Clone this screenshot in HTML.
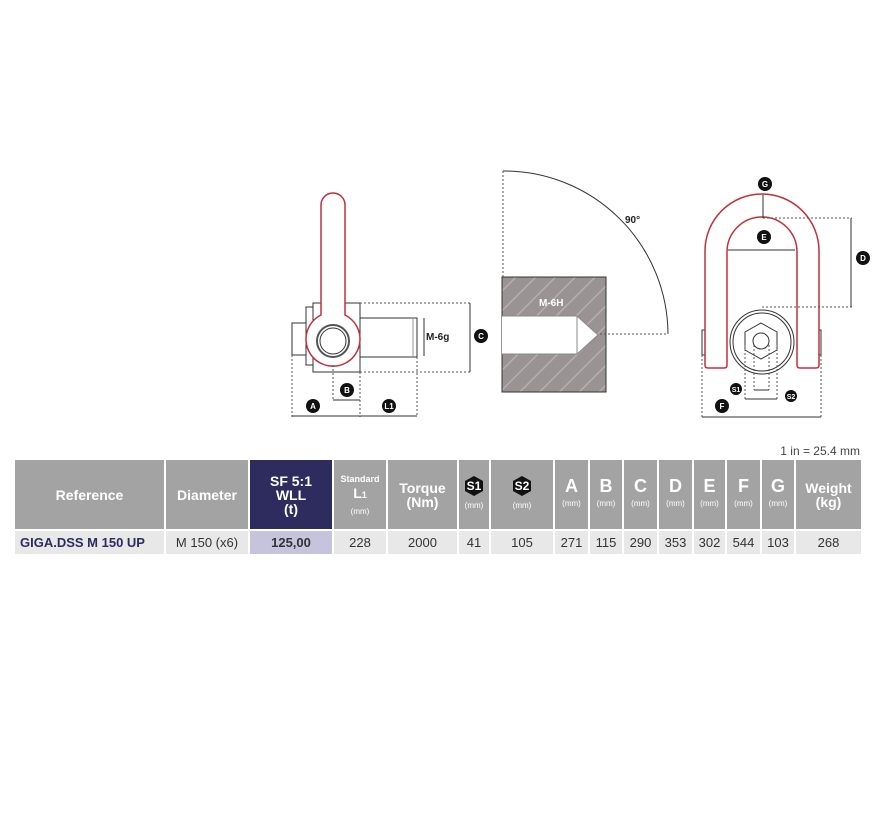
<!DOCTYPE html>
<html><head><meta charset="utf-8"><style>
body{margin:0;background:#fff;width:890px;height:820px;overflow:hidden;font-family:"Liberation Sans",sans-serif}
svg{position:absolute;left:0;top:0}
.t{position:absolute;left:15px;top:460px;border-collapse:collapse}
.t td{border-right:2px solid #fff;padding:0;text-align:center;color:#fff;font-weight:bold;font-size:14px;line-height:14px}
.t tr.h td{background:#a3a3a3;height:69px}
.t tr.h td.sf{background:#2e2c5e}
.t tr.d td{background:#e8e8e8;height:23px;color:#333;font-weight:normal;font-size:13px;border-top:2px solid #fff}
.t tr.d td.sf{background:#c6c4dc;font-weight:bold}
.mm{font-size:8px;font-weight:normal;display:block;margin-top:3px}
.big{font-size:18px}
.hx{display:inline-block;width:18px;height:20px;background:#111;clip-path:polygon(50% 0,100% 25%,100% 75%,50% 100%,0 75%,0 25%);color:#fff;font-size:12px;line-height:20px}
</style></head><body>
<svg width="890" height="820" viewBox="0 0 890 820">
<defs>
<pattern id="hatch" width="14" height="14" patternUnits="userSpaceOnUse" patternTransform="rotate(45)">
<rect width="14" height="14" fill="#9a9393"/><line x1="0" y1="0" x2="0" y2="14" stroke="#b5afaf" stroke-width="3"/>
</pattern>
</defs>
<g fill="none" stroke="#333" stroke-width="1">
<!-- left drawing -->
<rect x="292" y="323" width="14" height="32" fill="#fff"/>
<rect x="306" y="307" width="7" height="58" fill="#fff"/>
<rect x="313" y="303" width="47" height="69" fill="#fff"/>
<rect x="360" y="318" width="57" height="39" fill="#fff"/>
<line x1="413" y1="318" x2="413" y2="357" stroke="#999"/>
<path d="M321 205 A12 12 0 0 1 345 205 L345 315 A27 27 0 1 1 321 315 Z" fill="#fff" stroke="#c0303a" stroke-width="1.5"/>
<circle cx="333" cy="341" r="16" stroke="#555" stroke-width="2"/>
<circle cx="333" cy="341" r="13"/>
<g stroke-dasharray="2,2" stroke="#555">
<line x1="360" y1="303" x2="470" y2="303"/><line x1="360" y1="372" x2="470" y2="372"/>
<line x1="292" y1="355" x2="292" y2="417"/><line x1="360" y1="372" x2="360" y2="417"/>
<line x1="417" y1="357" x2="417" y2="417"/><line x1="333" y1="365" x2="333" y2="400"/>
</g>
<line x1="470" y1="303" x2="470" y2="372"/><line x1="424" y1="318" x2="424" y2="356"/>
<line x1="333" y1="400" x2="360" y2="400"/><line x1="292" y1="416" x2="360" y2="416"/><line x1="360" y1="416" x2="417" y2="416"/>
<!-- middle -->
<rect x="502" y="277" width="104" height="115" fill="url(#hatch)" stroke="#333"/>
<path d="M502 316 L577 316 L598 335 L577 354 L502 354" fill="#fff" stroke="#888"/>
<line x1="577" y1="316" x2="577" y2="354" stroke="#888"/>
<path d="M503 171 A164 164 0 0 1 668 334"/>
<g stroke-dasharray="2,2" stroke="#555"><line x1="503" y1="171" x2="503" y2="277"/><line x1="600" y1="334" x2="668" y2="334"/></g>
<!-- right -->
<rect x="702" y="330" width="5" height="25" fill="#fff"/><rect x="816" y="330" width="5" height="25" fill="#fff"/>
<path d="M705 251 A57 57 0 0 1 819 251 L819 365 Q819 368 816 368 L800 368 Q797 368 797 365 L797 252 A35 35 0 0 0 727 252 L727 365 Q727 368 724 368 L708 368 Q705 368 705 365 Z" fill="#fff" stroke="#c0303a" stroke-width="1.5"/>
<circle cx="762" cy="342" r="32" fill="#fff"/><circle cx="762" cy="342" r="29"/>
<polygon points="761,323 777,332 777,350 761,359 745,350 745,332"/>
<circle cx="761" cy="341" r="8"/>
<g stroke-dasharray="2,2" stroke="#555">
<line x1="763" y1="218" x2="852" y2="218"/><line x1="762" y1="307" x2="852" y2="307"/>
<line x1="702" y1="355" x2="702" y2="418"/><line x1="821" y1="355" x2="821" y2="418"/>
<line x1="745" y1="345" x2="745" y2="399"/><line x1="777" y1="345" x2="777" y2="399"/>
<line x1="754" y1="345" x2="754" y2="390"/><line x1="769" y1="345" x2="769" y2="390"/>
</g>
<line x1="851" y1="218" x2="851" y2="307"/><line x1="763" y1="195" x2="763" y2="218"/>
<line x1="728" y1="250" x2="795" y2="250"/><line x1="702" y1="417" x2="821" y2="417"/>
<line x1="754" y1="390" x2="769" y2="390"/><line x1="745" y1="399" x2="777" y2="399"/>
</g>
<g fill="#111">
<circle cx="481" cy="336" r="7"/><circle cx="347" cy="390" r="7"/><circle cx="313" cy="406" r="7"/><circle cx="389" cy="406" r="7"/>
<circle cx="765" cy="184" r="7"/><circle cx="764" cy="237" r="7"/><circle cx="863" cy="258" r="7"/><circle cx="722" cy="406" r="7"/>
<circle cx="736" cy="389" r="6"/><circle cx="791" cy="396" r="6"/>
</g>
<g fill="#fff" font-size="8" font-weight="bold" text-anchor="middle" font-family="Liberation Sans">
<text x="481" y="339">C</text><text x="347" y="393">B</text><text x="313" y="409">A</text><text x="389" y="409">L1</text>
<text x="765" y="187">G</text><text x="764" y="240">E</text><text x="863" y="261">D</text><text x="722" y="409">F</text>
<text x="736" y="392" font-size="7">S1</text><text x="791" y="399" font-size="7">S2</text>
</g>
<g font-weight="bold" font-size="10" font-family="Liberation Sans">
<text x="426" y="340" fill="#222">M-6g</text>
<text x="539" y="306" fill="#fff">M-6H</text>
<text x="625" y="223" fill="#222">90°</text>
</g>
<text x="860" y="455" font-size="12" fill="#444" text-anchor="end" font-family="Liberation Sans">1 in = 25.4 mm</text>
</svg>
<table class="t">
<tr class="h">
<td style="width:149px">Reference</td><td style="width:82px">Diameter</td>
<td class="sf" style="width:82px">SF 5:1<br>WLL<br>(t)</td>
<td style="width:52px"><span style="font-size:9px">Standard</span><br>L<span style="font-size:9px">1</span><span class="mm">(mm)</span></td>
<td style="width:69px">Torque<br>(Nm)</td>
<td style="width:30px"><span class="hx">S1</span><span class="mm">(mm)</span></td>
<td style="width:62px"><span class="hx">S2</span><span class="mm">(mm)</span></td>
<td style="width:33px"><span class="big">A</span><span class="mm">(mm)</span></td>
<td style="width:32px"><span class="big">B</span><span class="mm">(mm)</span></td>
<td style="width:33px"><span class="big">C</span><span class="mm">(mm)</span></td>
<td style="width:33px"><span class="big">D</span><span class="mm">(mm)</span></td>
<td style="width:31px"><span class="big">E</span><span class="mm">(mm)</span></td>
<td style="width:33px"><span class="big">F</span><span class="mm">(mm)</span></td>
<td style="width:32px"><span class="big">G</span><span class="mm">(mm)</span></td>
<td style="width:65px;border-right:0">Weight<br>(kg)</td>
</tr>
<tr class="d">
<td style="font-weight:bold;color:#2e2c5e;text-align:left;padding-left:5px">GIGA.DSS M 150 UP</td><td>M 150 (x6)</td><td class="sf">125,00</td><td>228</td><td>2000</td><td>41</td><td>105</td><td>271</td><td>115</td><td>290</td><td>353</td><td>302</td><td>544</td><td>103</td><td style="border-right:0">268</td>
</tr>
</table>
</body></html>
